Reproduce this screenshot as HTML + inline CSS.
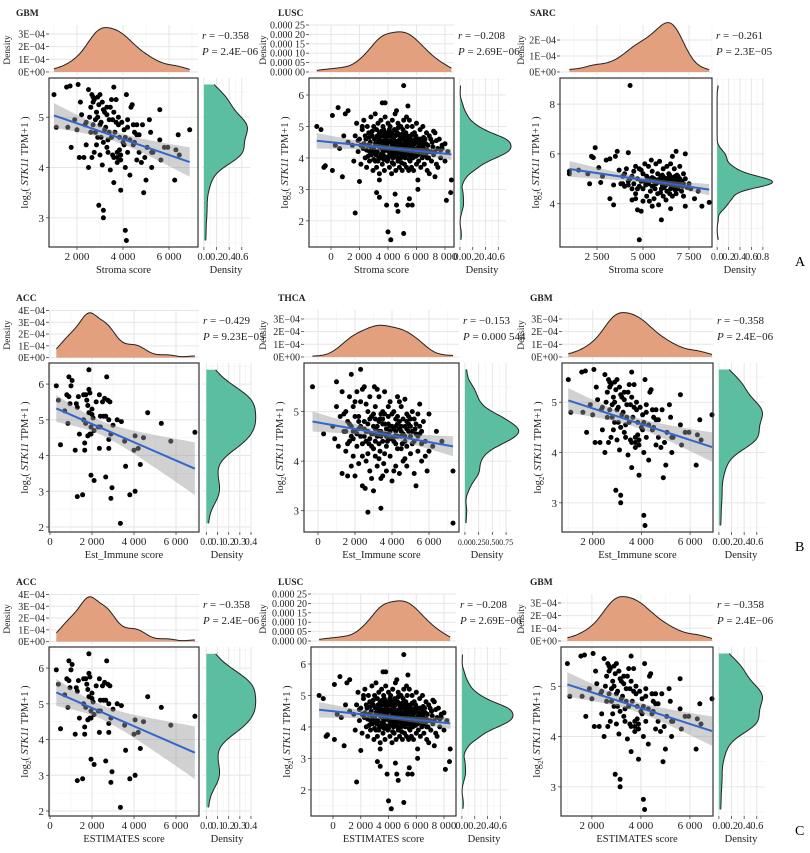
<!DOCTYPE html>
<html><head><meta charset="utf-8"><title>STK11 expression vs. stroma, immune and ESTIMATE scores</title>
<style>
html,body{margin:0;padding:0;background:#fff;}
svg{display:block;font-family:"Liberation Serif",serif;}
</style></head>
<body>
<svg id="fig" width="810" height="853" viewBox="0 0 810 853" xmlns="http://www.w3.org/2000/svg">
<rect width="810" height="853" fill="#fff"/>
<text x="795" y="266" font-size="14">A</text>
<text x="795" y="551" font-size="14">B</text>
<text x="795" y="835" font-size="14">C</text>
</svg>
<script>
// ---------- data (x = score, y = log2(STK11 TPM+1)) ----------
const gbmPoints = [[1000,5.45],[1100,4.8],[1550,5.6],[1700,5.62],[1750,4.4],[1900,4.95],[2050,5.65],[2150,5.3],[2100,4.2],[2200,5.05],[2300,4.2],[2400,4.9],[2400,4.45],[2500,5.55],[2500,4.0],[2550,5.0],[2600,5.2],[2650,5.45],[2700,5.4],[2750,5.35],[2700,4.85],[2750,4.3],[2800,4.7],[2850,5.1],[2900,5.0],[2900,4.6],[2950,5.25],[3000,5.45],[3000,4.25],[3050,4.9],[3100,5.3],[3150,5.15],[3150,4.5],[3200,5.1],[3250,4.8],[3300,4.4],[2950,3.25],[3150,3.15],[3150,3.0],[3300,5.2],[3350,4.55],[3400,4.95],[3450,3.95],[3500,4.6],[3550,4.25],[3600,5.6],[3600,5.1],[3600,4.2],[3600,3.7],[3650,4.7],[3700,4.9],[3750,4.3],[3750,4.1],[3800,5.0],[3800,4.85],[3850,4.6],[3900,4.25],[3900,3.55],[3950,4.9],[4000,4.5],[4050,4.45],[4100,4.0],[4100,2.75],[4150,2.55],[4150,5.45],[4200,4.8],[4200,4.3],[4300,3.85],[4350,5.2],[4400,5.25],[4450,4.85],[4500,4.7],[4500,4.5],[4600,4.65],[4600,4.85],[4700,4.3],[4800,4.1],[4850,4.85],[4900,3.5],[4950,4.2],[5000,3.75],[5050,4.4],[5150,4.95],[5200,4.7],[5250,4.0],[5300,4.3],[5600,5.15],[5600,4.55],[5650,4.15],[5950,4.4],[6250,3.75],[6400,4.65],[6450,4.25],[6900,4.75],[3200,4.75],[3400,4.7],[3550,4.95],[2600,4.7],[2850,4.45],[3850,4.35],[4300,4.55],[2350,4.85],[2000,4.75],[1600,4.8],[3100,4.05],[3500,5.35],[2700,5.3],[3900,4.15],[4100,4.6],[4700,4.65],[2800,4.95],[3300,5.05],[4050,4.75],[3700,5.35],[3000,4.85],[4450,4.45],[5250,4.3],[2650,4.2],[3350,4.3],[3750,4.2],[4200,4.95],[2900,5.4],[3450,5.2],[4600,4.15],[6300,4.35],[5800,4.4],[3050,4.6]];

const luscPoints = [[-1000,5.0],[-700,4.9],[-500,3.7],[-400,3.75],[100,3.6],[100,5.35],[500,5.6],[800,3.4],[1700,2.25],[2000,3.25],[3400,3.3],[3200,2.9],[3400,2.75],[3900,2.5],[4000,1.65],[4200,1.4],[5100,1.6],[5100,6.3],[4500,2.85],[4700,2.3],[4600,2.5],[5400,2.5],[5500,2.7],[5700,2.5],[6100,3.3],[6100,3.0],[6900,3.5],[7300,3.4],[8100,2.65],[8400,2.9],[8450,3.3],[8000,4.45],[7800,4.3],[7500,3.7],[7200,4.85],[3600,5.75],[3800,5.75],[5400,5.65],[5300,5.3],[4600,5.5],[1200,5.5],[1000,5.4],[2200,5.0],[300,4.4],[600,4.3],[900,4.7],[1200,4.5],[1500,4.4],[1600,3.9],[1700,4.7],[1800,5.1],[1900,4.2],[2000,4.6],[2100,3.8],[2200,4.9],[2250,4.3],[2300,5.2],[2400,4.0],[2450,4.6],[2500,3.7],[2550,5.0],[2600,4.4],[2650,4.8],[2700,3.9],[2750,4.5],[2800,5.3],[2850,4.1],[2900,4.7],[2950,3.6],[3000,4.3],[3000,5.0],[3050,4.6],[3100,3.9],[3100,5.4],[3150,4.4],[3200,4.9],[3200,3.7],[3250,4.2],[3300,4.6],[3300,5.1],[3350,4.0],[3400,4.8],[3400,3.5],[3450,4.4],[3500,5.2],[3500,4.1],[3550,4.7],[3600,3.8],[3600,4.5],[3650,5.0],[3700,4.2],[3700,4.9],[3750,3.6],[3800,4.6],[3800,5.3],[3850,4.0],[3900,4.4],[3900,4.8],[3950,3.9],[4000,5.1],[4000,4.3],[4050,4.7],[4100,3.7],[4100,4.5],[4150,5.0],[4200,4.1],[4200,4.8],[4250,3.5],[4300,4.4],[4300,5.2],[4350,4.0],[4400,4.6],[4400,3.8],[4450,4.9],[4500,4.2],[4500,5.4],[4550,3.6],[4600,4.5],[4600,4.1],[4650,4.8],[4700,3.9],[4700,5.1],[4750,4.3],[4800,4.7],[4800,3.7],[4850,4.4],[4900,5.0],[4900,4.0],[4950,4.6],[5000,3.6],[5000,4.3],[5050,4.9],[5100,4.1],[5100,5.2],[5150,3.8],[5200,4.5],[5200,4.0],[5250,4.8],[5300,3.7],[5300,4.3],[5350,5.0],[5400,4.1],[5400,4.6],[5450,3.6],[5500,4.4],[5500,5.2],[5550,3.9],[5600,4.7],[5600,4.2],[5650,3.7],[5700,4.5],[5700,5.0],[5750,4.0],[5800,4.3],[5800,3.6],[5850,4.8],[5900,4.1],[5950,4.5],[6000,3.8],[6000,5.1],[6050,4.3],[6100,4.6],[6150,3.9],[6200,4.4],[6250,4.9],[6300,3.7],[6300,4.2],[6350,4.6],[6400,4.0],[6450,5.0],[6500,4.3],[6550,3.8],[6600,4.6],[6650,4.1],[6700,4.8],[6750,3.6],[6800,4.4],[6850,4.0],[6900,4.7],[7000,4.2],[7050,3.9],[7100,4.5],[7200,4.1],[7300,4.8],[7400,3.8],[7500,4.3],[7600,4.6],[7700,4.0],[7800,4.4],[8000,3.9],[8200,4.2],[3400,4.35],[3800,4.25],[4200,4.55],[4600,4.35],[5000,4.75],[5400,4.35],[3600,4.15],[4000,3.95],[4400,4.25],[4800,4.15],[5200,4.45],[2800,4.35],[3100,4.45],[4900,4.45],[5700,4.75],[2600,4.05],[2900,4.85],[3250,4.6],[3550,4.3],[3750,4.75],[3950,4.55],[4150,4.25],[4350,4.75],[4550,4.05],[4750,4.55],[4950,3.85],[5150,4.65],[5350,4.2],[5550,4.6],[5750,4.35],[5950,4.05],[6150,4.35],[6350,4.25],[6550,4.5],[6750,4.25],[3300,3.9],[3700,3.95],[4100,4.9],[4500,4.7],[4900,4.2],[5300,4.55],[5700,4.15],[6100,4.1],[6500,4.65],[2400,4.7],[2700,4.2],[3000,3.95],[3500,4.55],[4300,3.85],[4700,4.95],[5100,4.35],[5500,3.95],[5900,4.6],[6300,4.45],[7000,4.6],[7300,4.2],[2300,4.45],[2500,4.25],[2700,4.65],[3050,4.15],[3350,4.5],[3650,4.4],[3850,4.45],[4050,4.2],[4250,4.35],[4450,4.45],[4650,4.25],[4850,4.6],[5050,4.25],[5250,4.35],[5450,4.5],[5650,4.3],[5850,4.45],[6050,4.55],[6250,4.15],[6450,4.35],[6650,4.45],[6850,4.2],[7150,4.35],[3150,4.1],[3450,4.0],[3750,4.05],[4050,4.05],[4350,4.15],[4650,4.0],[4950,4.1],[5250,4.15],[5550,4.1],[5850,4.2],[6150,4.2],[6450,4.1],[6750,4.0],[3250,4.7],[3550,4.85],[3850,4.65],[4150,4.7],[4450,4.55],[4750,4.75],[5050,4.6],[5350,4.7],[5650,4.55],[5950,4.7],[6250,4.6],[2900,4.25],[7400,4.55],[7700,4.25],[2100,4.4],[1900,4.55]];

const sarcPoints = [[1000,5.3],[1000,5.2],[1500,5.35],[2000,5.2],[2100,4.8],[2200,5.9],[2300,5.85],[2400,6.25],[2600,5.45],[2700,4.85],[2800,5.1],[3000,5.75],[3200,5.8],[3200,4.2],[3400,3.95],[3500,5.9],[3600,6.1],[3400,4.75],[3700,5.35],[3900,4.8],[4000,5.2],[4200,6.05],[4300,8.75],[4400,4.15],[4700,3.75],[4800,2.55],[4900,3.7],[5000,4.1],[5500,3.9],[6000,3.35],[6500,3.8],[7300,3.9],[7300,6.0],[6800,6.1],[6600,5.9],[8200,3.9],[8600,4.05],[8000,4.5],[7800,4.2],[7600,4.6],[3800,4.8],[3900,5.1],[4000,4.7],[4100,5.4],[4200,4.9],[4300,5.0],[4400,4.6],[4500,5.3],[4500,4.8],[4600,5.5],[4600,4.4],[4700,5.0],[4800,4.7],[4800,5.4],[4900,4.9],[5000,5.2],[5000,4.6],[5100,5.6],[5100,4.9],[5200,4.3],[5200,5.1],[5300,4.8],[5300,5.5],[5400,4.5],[5400,5.0],[5500,5.3],[5500,4.7],[5600,4.2],[5600,5.0],[5700,5.6],[5700,4.8],[5800,4.4],[5800,5.2],[5900,4.9],[5900,5.7],[6000,4.6],[6000,5.1],[6100,4.3],[6100,5.4],[6200,4.8],[6200,5.0],[6300,5.5],[6300,4.5],[6400,4.9],[6400,5.2],[6500,4.6],[6500,5.6],[6600,4.8],[6600,4.3],[6700,5.0],[6700,5.4],[6800,4.7],[6800,4.4],[6900,5.1],[6900,4.6],[7000,4.9],[7000,5.5],[7100,4.5],[7200,5.2],[7200,4.8],[7200,4.3],[7300,5.0],[4200,4.75],[4700,4.6],[5150,4.75],[5650,4.6],[6050,4.75],[6450,4.4],[6850,4.95],[4400,5.1],[4900,5.35],[5450,5.75],[5950,4.45],[6350,4.9],[6750,4.55],[7150,4.7],[5350,4.1],[5850,3.95],[6250,4.15],[4600,4.2],[7400,4.65],[7500,4.8],[5800,4.85],[5900,5.0],[6000,4.9],[6100,4.8],[6150,5.05],[6200,4.9],[6250,4.75],[6300,5.0],[6350,4.8],[6400,5.05],[6450,4.85],[6500,4.95],[6550,4.75],[6600,5.05],[6650,4.9],[6700,4.8],[6750,5.1],[6800,4.9],[6900,4.8],[7000,5.0],[7100,4.9],[5600,4.9],[5500,5.05],[5700,4.95],[6050,5.15],[6450,5.15],[6850,5.15],[7050,4.75],[6150,4.65],[6550,4.65],[5350,4.9],[5250,4.95]];

const accPoints = [[300,5.95],[400,5.55],[500,4.3],[700,5.25],[800,5.7],[850,4.9],[900,5.65],[900,6.2],[950,5.45],[1000,5.95],[1050,6.1],[1200,4.15],[1250,5.45],[1300,5.35],[1350,5.65],[1400,4.6],[1300,2.85],[1550,2.9],[1600,5.0],[1650,4.35],[1650,4.15],[1700,5.7],[1700,4.9],[1750,5.55],[1800,5.4],[1800,4.55],[1850,5.85],[1850,6.4],[1850,5.2],[1900,4.6],[1900,5.75],[1950,4.8],[1950,3.45],[2000,5.3],[2000,5.15],[2050,5.05],[2100,3.3],[2100,4.7],[2200,5.5],[2300,4.8],[2350,4.2],[2350,5.7],[2400,5.1],[2500,5.5],[2550,5.1],[2600,5.6],[2650,5.1],[2650,3.4],[2700,6.2],[2750,5.55],[2800,4.2],[2800,5.0],[2800,4.45],[2850,5.5],[2900,2.8],[2900,4.6],[2950,3.1],[3000,4.85],[3200,5.0],[3350,2.1],[3400,4.95],[3550,4.4],[3600,3.7],[3800,2.9],[4000,4.15],[4050,4.55],[4050,3.0],[4200,4.2],[4300,3.75],[4450,4.5],[4650,5.2],[5300,4.9],[5750,4.4],[6900,4.65],[1950,4.6],[2400,4.8],[1600,5.7]];

const thcaPoints = [[-300,5.5],[300,4.55],[7300,3.8],[7300,2.75],[2700,2.97],[3400,3.05],[1800,5.75],[2300,5.85],[1000,5.6],[5300,3.5],[6000,4.2],[6400,4.6],[6700,4.4],[800,4.7],[900,4.45],[1000,5.1],[1100,4.3],[1200,4.9],[1300,5.4],[1300,3.75],[1400,4.6],[1500,5.0],[1500,4.2],[1600,3.7],[1600,4.8],[1700,5.3],[1700,4.4],[1800,3.9],[1800,4.7],[1900,5.1],[1900,4.1],[2000,4.6],[2000,3.7],[2100,5.4],[2100,4.3],[2200,4.9],[2200,3.95],[2300,4.5],[2300,5.2],[2400,4.1],[2400,3.5],[2500,4.8],[2500,5.5],[2550,3.45],[2600,4.4],[2600,4.0],[2700,5.0],[2700,4.6],[2800,3.8],[2800,5.3],[2900,4.3],[2900,4.9],[3000,3.4],[3000,4.7],[3050,5.5],[3100,4.1],[3100,5.1],[3200,4.5],[3200,3.9],[3300,4.8],[3300,5.3],[3350,4.2],[3400,3.65],[3400,4.6],[3500,5.0],[3500,4.4],[3550,3.95],[3600,4.75],[3600,5.4],[3700,4.3],[3700,3.8],[3800,4.9],[3800,4.55],[3900,5.2],[3900,4.1],[4000,4.7],[4000,3.6],[4100,4.4],[4100,5.0],[4200,3.9],[4200,4.6],[4300,5.3],[4300,4.25],[4400,4.8],[4400,3.75],[4500,4.5],[4500,5.1],[4600,4.0],[4700,4.7],[4700,5.25],[4800,4.3],[4800,3.9],[4900,4.9],[5000,4.5],[5000,4.15],[5100,5.0],[5200,4.4],[5200,3.75],[5300,4.75],[5400,4.2],[5500,5.15],[5500,4.55],[5600,4.0],[5700,4.8],[5800,4.4],[5900,3.8],[6000,4.95],[6200,4.3],[2500,4.65],[2800,4.45],[3100,4.85],[3400,4.95],[3700,4.65],[4000,4.95],[4300,4.75],[4600,4.85],[4900,4.6],[3000,4.25],[3300,4.35],[3600,4.15],[3900,4.45],[4200,4.85],[4500,4.25],[4800,4.65],[2200,4.65],[1900,4.45],[2600,5.15],[3200,5.45],[3800,5.1],[4400,5.2],[5000,4.85],[5600,4.6],[2900,3.65],[3500,3.7],[4100,3.8],[4700,4.05],[1400,4.95],[1600,4.35],[2000,5.2],[2400,5.45],[2700,4.15],[3000,4.95],[3300,4.05],[3600,4.95],[3900,4.7],[4200,4.35],[4500,4.7],[4800,4.95],[5100,4.35],[5400,4.95],[5800,4.1],[1500,4.6],[1700,4.75],[1900,4.6],[2100,4.55],[2300,4.7],[2500,4.5],[2700,4.75],[2900,4.55],[3100,4.65],[3300,4.6],[3500,4.75],[3700,4.5],[3900,4.6],[4100,4.65],[4300,4.5],[4500,4.6],[4700,4.5],[4900,4.75],[5100,4.6],[5300,4.55],[5500,4.7],[1800,4.5],[2200,4.8],[2600,4.6],[3000,4.55],[3400,4.5],[3800,4.75],[4200,4.7],[4600,4.55],[5000,4.7],[5400,4.5],[2400,4.35],[2800,4.85],[3200,4.7],[3600,4.55],[4000,4.45],[4400,4.65],[4800,4.8],[5200,4.85],[5600,4.35],[3500,4.85],[3100,4.4],[4300,4.9],[2000,4.9],[4700,4.4],[3750,4.4],[4150,4.5],[2750,4.35],[3350,4.85],[4550,4.35],[5250,4.65]];

// ---------- helpers ----------
const NS = 'http://www.w3.org/2000/svg';
const svg = document.getElementById('fig');
function mk(tag, attrs, parent) {
  const e = document.createElementNS(NS, tag);
  for (const k in attrs) e.setAttribute(k, attrs[k]);
  (parent || svg).appendChild(e);
  return e;
}
function lin(d0, d1, r0, r1) { return v => r0 + (v - d0) / (d1 - d0) * (r1 - r0); }
function kde(vals, lo, hi, n) {
  const N = vals.length, mean = vals.reduce((a, b) => a + b, 0) / N;
  const sd = Math.sqrt(vals.reduce((a, b) => a + (b - mean) * (b - mean), 0) / (N - 1));
  const s = vals.slice().sort((a, b) => a - b);
  const q = p => { const i = (N - 1) * p, f = Math.floor(i); return s[f] + (s[Math.min(f + 1, N - 1)] - s[f]) * (i - f); };
  const iqr = q(0.75) - q(0.25);
  const bw = 0.9 * Math.min(sd, iqr / 1.34 || sd) * Math.pow(N, -0.2);
  const out = [];
  for (let i = 0; i <= n; i++) {
    const x = lo + (hi - lo) * i / n;
    let d = 0;
    for (const v of vals) { const z = (x - v) / bw; d += Math.exp(-0.5 * z * z); }
    out.push([x, d / (N * bw * Math.sqrt(2 * Math.PI))]);
  }
  return out;
}
function minors(ticks, lo, hi) {
  const step = ticks[1] - ticks[0], out = [];
  for (let v = ticks[0] - step / 2; v <= hi; v += step) if (v >= lo) out.push(v);
  return out;
}

function drawPanel(c) {
  const off = c.off;
  const bx0 = c.bx0, bx1 = c.bx1, by0 = 78 + off, by1 = 247 + off;
  const ty0 = 25 + off, ty1 = 75 + off;
  const rx0 = bx1 + 4, rx1 = bx1 + 52;
  const X = lin(c.xDom[0], c.xDom[1], bx0, bx1);
  const Y = lin(c.yDom[0], c.yDom[1], by1, by0);
  const TY = lin(c.topDom[0], c.topDom[1], ty1, ty0);
  const RX = lin(c.rDom[0], c.rDom[1], rx0, rx1);
  const g = mk('g', {});
  
  

  const t = mk('text', { x: c.titleX, y: 16 + off, 'font-size': 9.5, 'font-weight': 'bold', fill: '#222' }, g);
  t.textContent = c.title;
  
  

  const xMin = minors(c.xTicks, c.xDom[0], c.xDom[1]);
  const yMin = minors(c.yTicks, c.yDom[0], c.yDom[1]);

  // ---- top density ----
  const tg = mk('g', {}, g);
  
  
  xMin.forEach(v => mk('line', { x1: X(v), x2: X(v), y1: ty0, y2: ty1, stroke: '#f2f2f2', 'stroke-width': 0.6 }, tg));
  c.xTicks.forEach(v => { if (v >= c.xDom[0] && v <= c.xDom[1]) mk('line', { x1: X(v), x2: X(v), y1: ty0, y2: ty1, stroke: '#e6e6e6', 'stroke-width': 1 }, tg); });
  c.topTicks.forEach((v, i) => {
    mk('line', { x1: bx0, x2: bx1, y1: TY(v), y2: TY(v), stroke: '#e6e6e6', 'stroke-width': 1 }, tg);
    mk('line', { x1: bx0 - 3, x2: bx0, y1: TY(v), y2: TY(v), stroke: '#444', 'stroke-width': 0.8 }, tg);
    const l = mk('text', { x: bx0 - 4, y: TY(v) + 3.5, 'font-size': 10, 'text-anchor': 'end', fill: '#222' }, tg);
    l.textContent = c.topLabels[i];
    
    
  });
  const xs = c.pts.map(p => p[0]), ys = c.pts.map(p => p[1]);
  const xlo = Math.min(...xs), xhi = Math.max(...xs);
  const kx = kde(xs, xlo, xhi, 120);
  let d = 'M' + X(xlo) + ',' + TY(0);
  kx.forEach(p => d += 'L' + X(p[0]).toFixed(1) + ',' + TY(p[1]).toFixed(1));
  d += 'L' + X(xhi) + ',' + TY(0) + 'Z';
  const tp = mk('path', { d: d, fill: '#e2a07f', stroke: 'none' }, tg);
  
  
  let d2 = '';
  kx.forEach((p, i) => d2 += (i ? 'L' : 'M') + X(p[0]).toFixed(1) + ',' + TY(p[1]).toFixed(1));
  mk('path', { d: d2, fill: 'none', stroke: '#222', 'stroke-width': 1 }, tg);
  const dt = mk('text', { x: 0, y: 0, 'font-size': 9.5, 'text-anchor': 'middle', fill: '#222', transform: `translate(${c.dTitleX},${(ty0 + ty1) / 2}) rotate(-90)` }, tg);
  dt.textContent = 'Density';
  
  

  const r = mk('text', { x: bx1 + 4, y: 39 + off, 'font-size': 11, fill: '#222' }, g);
  r.innerHTML = '<tspan font-style="italic">r</tspan> = ' + c.r;
  
  
  const P = mk('text', { x: bx1 + 4, y: 55 + off, 'font-size': 11, fill: '#222' }, g);
  P.innerHTML = '<tspan font-style="italic">P</tspan> = ' + c.p;
  
  

  // ---- main scatter ----
  const mg = mk('g', {}, g);
  
  
  mk('rect', { x: bx0, y: by0, width: bx1 - bx0, height: by1 - by0, fill: '#fff' }, mg);
  xMin.forEach(v => mk('line', { x1: X(v), x2: X(v), y1: by0, y2: by1, stroke: '#f2f2f2', 'stroke-width': 0.6 }, mg));
  yMin.forEach(v => mk('line', { x1: bx0, x2: bx1, y1: Y(v), y2: Y(v), stroke: '#f2f2f2', 'stroke-width': 0.6 }, mg));
  c.xTicks.forEach((v, i) => {
    if (v < c.xDom[0] || v > c.xDom[1]) return;
    mk('line', { x1: X(v), x2: X(v), y1: by0, y2: by1, stroke: '#e6e6e6', 'stroke-width': 1 }, mg);
    mk('line', { x1: X(v), x2: X(v), y1: by1, y2: by1 + 3, stroke: '#444', 'stroke-width': 0.8 }, mg);
    const l = mk('text', { x: X(v), y: by1 + 13, 'font-size': 11, 'text-anchor': 'middle', fill: '#222' }, mg);
    l.textContent = c.xLabels[i];
    
    
  });
  c.yTicks.forEach(v => {
    mk('line', { x1: bx0, x2: bx1, y1: Y(v), y2: Y(v), stroke: '#e6e6e6', 'stroke-width': 1 }, mg);
    mk('line', { x1: bx0 - 3, x2: bx0, y1: Y(v), y2: Y(v), stroke: '#444', 'stroke-width': 0.8 }, mg);
    const l = mk('text', { x: bx0 - 5, y: Y(v) + 4, 'font-size': 11, 'text-anchor': 'end', fill: '#222' }, mg);
    l.textContent = String(v);
    
    
  });
  const n = xs.length, mx = xs.reduce((a, b) => a + b, 0) / n, my = ys.reduce((a, b) => a + b, 0) / n;
  let sxx = 0, sxy = 0; xs.forEach((x, i) => { sxx += (x - mx) * (x - mx); sxy += (x - mx) * (ys[i] - my); });
  const b = sxy / sxx, a = my - b * mx;
  let sse = 0; xs.forEach((x, i) => { const e = ys[i] - a - b * x; sse += e * e; });
  const s = Math.sqrt(sse / (n - 2)), tq = 1.97;
  const up = [], lo = [];
  for (let i = 0; i <= 40; i++) {
    const x = xlo + (xhi - xlo) * i / 40, f = a + b * x;
    const se = s * Math.sqrt(1 / n + (x - mx) * (x - mx) / sxx) * c.ciScale;
    up.push(X(x).toFixed(1) + ',' + Y(f + tq * se).toFixed(1));
    lo.unshift(X(x).toFixed(1) + ',' + Y(f - tq * se).toFixed(1));
  }
  const dots = mk('g', {}, mg);
  
  
  c.pts.forEach(p => {
    const ci = mk('circle', { cx: X(p[0]).toFixed(1), cy: Y(p[1]).toFixed(1), r: 2.5, fill: '#000' }, dots);
    
    
  });
  const band = mk('polygon', { points: up.concat(lo).join(' '), fill: '#999', 'fill-opacity': 0.45 }, mg);
  
  
  const rl = mk('line', { x1: X(xlo), y1: Y(a + b * xlo), x2: X(xhi), y2: Y(a + b * xhi), stroke: '#3366cc', 'stroke-width': 2 }, mg);
  
  
  mk('rect', { x: bx0, y: by0, width: bx1 - bx0, height: by1 - by0, fill: 'none', stroke: '#333', 'stroke-width': 1.2 }, mg);
  const xt = mk('text', { x: (bx0 + bx1) / 2, y: by1 + 26, 'font-size': 10.5, 'text-anchor': 'middle', fill: '#222' }, mg);
  xt.textContent = c.xTitle;
  
  
  const yt = mk('text', { x: 0, y: 0, 'font-size': 10.5, 'text-anchor': 'middle', fill: '#222', transform: `translate(${bx0 - 21},${(by0 + by1) / 2}) rotate(-90)` }, mg);
  yt.innerHTML = 'log<tspan font-size="7" dy="3">2</tspan><tspan dy="-3">( </tspan><tspan font-style="italic">STK11</tspan> TPM+1 )';
  
  

  // ---- right density ----
  const rg = mk('g', {}, g);
  
  
  yMin.forEach(v => mk('line', { x1: rx0, x2: rx1, y1: Y(v), y2: Y(v), stroke: '#f2f2f2', 'stroke-width': 0.6 }, rg));
  c.yTicks.forEach(v => mk('line', { x1: rx0, x2: rx1, y1: Y(v), y2: Y(v), stroke: '#e6e6e6', 'stroke-width': 1 }, rg));
  c.rTicks.forEach((v, i) => {
    mk('line', { x1: RX(v), x2: RX(v), y1: by0, y2: by1, stroke: '#e6e6e6', 'stroke-width': 1 }, rg);
    if (i < c.rTicks.length - 1) { const m = (v + c.rTicks[i + 1]) / 2; mk('line', { x1: RX(m), x2: RX(m), y1: by0, y2: by1, stroke: '#f2f2f2', 'stroke-width': 0.6 }, rg); }
    mk('line', { x1: RX(v), x2: RX(v), y1: by1, y2: by1 + 3, stroke: '#444', 'stroke-width': 0.8 }, rg);
    const l = mk('text', { x: RX(v), y: by1 + 13, 'font-size': c.rFont, 'text-anchor': 'middle', fill: '#222' }, rg);
    l.textContent = c.rLabels[i];
    
    
  });
  const ylo = Math.min(...ys), yhi = Math.max(...ys);
  const ky = kde(ys, ylo, yhi, 120);
  let d3 = 'M' + RX(0) + ',' + Y(ylo);
  ky.forEach(p => d3 += 'L' + RX(p[1]).toFixed(1) + ',' + Y(p[0]).toFixed(1));
  d3 += 'L' + RX(0) + ',' + Y(yhi) + 'Z';
  const rp = mk('path', { d: d3, fill: '#5cbea0', stroke: 'none' }, rg);
  
  
  let d4 = '';
  ky.forEach((p, i) => d4 += (i ? 'L' : 'M') + RX(p[1]).toFixed(1) + ',' + Y(p[0]).toFixed(1));
  mk('path', { d: d4, fill: 'none', stroke: '#222', 'stroke-width': 1 }, rg);
  const rt = mk('text', { x: (rx0 + rx1) / 2, y: by1 + 26, 'font-size': 10.5, 'text-anchor': 'middle', fill: '#222' }, rg);
  rt.textContent = 'Density';
  
  
}

// ---------- tick definitions ----------
const gbmXTicks = [2000, 4000, 6000];
const gbmXLabels = ['2 000', '4 000', '6 000'];
const gbmYTicks = [3, 4, 5];
const e4Ticks3 = [0, 1e-4, 2e-4, 3e-4];
const e4Labels3 = ['0E+00', '1E\u221204', '2E\u221204', '3E\u221204'];
const e4Ticks2 = [0, 1e-4, 2e-4];
const e4Labels2 = ['0E+00', '1E\u221204', '2E\u221204'];
const e4Ticks4 = [0, 1e-4, 2e-4, 3e-4, 4e-4];
const e4Labels4 = ['0E+00', '1E\u221204', '2E\u221204', '3E\u221204', '4E\u221204'];
const luscXTicks = [0, 2000, 4000, 6000, 8000];
const luscXLabels = ['0', '2 000', '4 000', '6 000', '8 000'];
const luscYTicks = [2, 3, 4, 5, 6];
const luscTopTicks = [0, 5e-5, 1e-4, 1.5e-4, 2e-4, 2.5e-4];
const luscTopLabels = ['0.000 00', '0.000 05', '0.000 10', '0.000 15', '0.000 20', '0.000 25'];
const sarcXTicks = [2500, 5000, 7500];
const sarcXLabels = ['2 500', '5 000', '7 500'];
const sarcYTicks = [4, 6, 8];
const accXTicks = [0, 2000, 4000, 6000];
const accXLabels = ['0', '2 000', '4 000', '6 000'];
const accYTicks = [2, 3, 4, 5, 6];
const thcaYTicks = [3, 4, 5];
const dens06 = [0, 0.2, 0.4, 0.6];
const dens06L = ['0.0', '0.2', '0.4', '0.6'];
const dens08 = [0, 0.2, 0.4, 0.6, 0.8];
const dens08L = ['0.0', '0.2', '0.4', '0.6', '0.8'];
const dens04 = [0, 0.1, 0.2, 0.3, 0.4];
const dens04L = ['0.0', '0.1', '0.2', '0.3', '0.4'];
const dens075 = [0, 0.25, 0.5, 0.75];
const dens075L = ['0.00', '0.25', '0.50', '0.75'];

const gbmBase = { pts: gbmPoints, xDom: [783, 7261], yDom: [2.42, 5.78], topDom: [-2.4e-5, 3.71e-4], rDom: [-0.03, 0.73], xTicks: gbmXTicks, xLabels: gbmXLabels, yTicks: gbmYTicks, topTicks: e4Ticks3, topLabels: e4Labels3, rTicks: dens06, rLabels: dens06L, rFont: 10.5, r: '\u22120.358', p: '2.4E\u221206', title: 'GBM', ciScale: 1 };
const luscBase = { pts: luscPoints, xDom: [-1544, 8632], yDom: [1.17, 6.54], topDom: [-1.6e-5, 2.5e-4], rDom: [-0.03, 0.72], xTicks: luscXTicks, xLabels: luscXLabels, yTicks: luscYTicks, topTicks: luscTopTicks, topLabels: luscTopLabels, rTicks: dens06, rLabels: dens06L, rFont: 10.5, r: '\u22120.208', p: '2.69E\u221206', title: 'LUSC', ciScale: 1 };
const accBase = { pts: accPoints, xDom: [-48, 7095], yDom: [1.86, 6.59], topDom: [-2e-5, 4.04e-4], rDom: [-0.03, 0.4], xTicks: accXTicks, xLabels: accXLabels, yTicks: accYTicks, topTicks: e4Ticks4, topLabels: e4Labels4, rTicks: dens04, rLabels: dens04L, rFont: 10, title: 'ACC', ciScale: 1 };

const panels = [
  Object.assign({}, gbmBase, { name: 'panel-a-gbm', off: 0, bx0: 49, bx1: 198, titleX: 16, dTitleX: 10, xTitle: 'Stroma score' }),
  Object.assign({}, luscBase, { name: 'panel-a-lusc', off: 0, bx0: 309, bx1: 454, titleX: 278, dTitleX: 266, xTitle: 'Stroma score' }),
  { name: 'panel-a-sarc', pts: sarcPoints, off: 0, bx0: 560, bx1: 712, xDom: [489, 8750], yDom: [2.26, 9.05], topDom: [-1.9e-5, 2.94e-4], rDom: [-0.02, 0.82], xTicks: sarcXTicks, xLabels: sarcXLabels, yTicks: sarcYTicks, topTicks: e4Ticks2, topLabels: e4Labels2, rTicks: dens08, rLabels: dens08L, rFont: 10, r: '\u22120.261', p: '2.3E\u221205', title: 'SARC', titleX: 530, dTitleX: 524, xTitle: 'Stroma score', ciScale: 1 },
  Object.assign({}, accBase, { name: 'panel-b-acc', off: 285, bx0: 49, bx1: 199, titleX: 16, dTitleX: 10, xTitle: 'Est_Immune score', r: '\u22120.429', p: '9.23E\u221205' }),
  { name: 'panel-b-thca', pts: thcaPoints, off: 285, bx0: 304, bx1: 459, xDom: [-757, 7622], yDom: [2.57, 5.98], topDom: [-2.4e-5, 3.71e-4], rDom: [-0.035, 0.84], xTicks: accXTicks, xLabels: accXLabels, yTicks: thcaYTicks, topTicks: e4Ticks3, topLabels: e4Labels3, rTicks: dens075, rLabels: dens075L, rFont: 8, r: '\u22120.153', p: '0.000 544', title: 'THCA', titleX: 278, dTitleX: 266, xTitle: 'Est_Immune score', ciScale: 1 },
  Object.assign({}, gbmBase, { name: 'panel-b-gbm', off: 285, bx0: 562, bx1: 713, xDom: [740, 6940], titleX: 530, dTitleX: 524, xTitle: 'Est_Immune score' }),
  Object.assign({}, accBase, { name: 'panel-c-acc', off: 569, bx0: 49, bx1: 199, titleX: 16, dTitleX: 10, xTitle: 'ESTIMATES score', r: '\u22120.358', p: '2.4E\u221206' }),
  Object.assign({}, luscBase, { name: 'panel-c-lusc', off: 569, bx0: 311, bx1: 456, xDom: [-1586, 8865], titleX: 278, dTitleX: 266, xTitle: 'ESTIMATES score' }),
  Object.assign({}, gbmBase, { name: 'panel-c-gbm', off: 569, bx0: 561, bx1: 713, xDom: [740, 6940], titleX: 530, dTitleX: 524, xTitle: 'ESTIMATES score' })
];
panels.forEach(drawPanel);
</script>
</body></html>
